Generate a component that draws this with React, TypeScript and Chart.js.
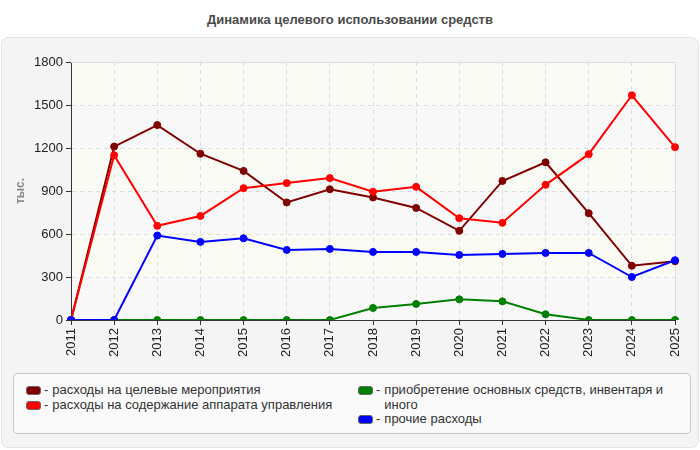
import { useEffect, useRef } from "react";
import { Chart, registerables } from "chart.js";

Chart.register(...registerables);

const YEARS = ["2011", "2012", "2013", "2014", "2015", "2016", "2017", "2018", "2019", "2020", "2021", "2022", "2023", "2024", "2025"];
const TARGET = [0, 1210, 1360, 1160, 1040, 820, 912, 855, 782, 622, 970, 1100, 745, 378, 410];
const ADMIN = [0, 1150, 657, 726, 920, 955, 990, 895, 929, 710, 678, 943, 1157, 1568, 1206];
const ASSETS = [0, 0, 0, 0, 0, 0, 0, 84, 112, 144, 130, 40, 0, 0, 0];
const OTHER = [0, 0, 589, 545, 570, 489, 496, 475, 475, 454, 461, 468, 468, 300, 417];
const LABELS = [
  "расходы на целевые мероприятия",
  "расходы на содержание аппарата управления",
  "приобретение основных средств, инвентаря и иного",
  "прочие расходы",
];
const COLORS = ["#800000", "#ff0000", "#008000", "#0000ff"];
const Y_TICKS = [0, 300, 600, 900, 1200, 1500, 1800];

const FONT = "'Liberation Sans', Arial, sans-serif";

// hatched striped background behind the plot
const plotBackground = {
  id: "plotBackground",
  beforeDraw(chart: any) {
    const { ctx, chartArea: a, scales } = chart;
    const y = scales.y;
    ctx.save();
    for (let i = 0; i < Y_TICKS.length - 1; i++) {
      const top = y.getPixelForValue(Y_TICKS[i + 1]);
      const bottom = y.getPixelForValue(Y_TICKS[i]);
      ctx.fillStyle = i % 2 === 1 ? "#fdfdf8" : "#fbfbfb";
      ctx.fillRect(a.left, top, a.right - a.left, bottom - top);
    }
    ctx.beginPath();
    ctx.rect(a.left, a.top, a.right - a.left, a.bottom - a.top);
    ctx.clip();
    ctx.strokeStyle = "rgba(0,0,0,0.04)";
    ctx.lineWidth = 1;
    const h = a.bottom - a.top;
    for (let x = a.left - h; x < a.right; x += 4) {
      ctx.beginPath();
      ctx.moveTo(x, a.bottom);
      ctx.lineTo(x + h, a.top);
      ctx.stroke();
    }
    ctx.restore();
  },
  beforeDatasetsDraw(chart: any) {
    const { ctx, chartArea: a } = chart;
    ctx.save();
    ctx.strokeStyle = "#dddddd";
    ctx.lineWidth = 1;
    ctx.beginPath();
    ctx.moveTo(a.left, a.top + 0.5);
    ctx.lineTo(a.right + 0.5, a.top + 0.5);
    ctx.lineTo(a.right + 0.5, a.bottom);
    ctx.stroke();
    ctx.restore();
  },
};

function LineChart() {
  const canvasRef = useRef<HTMLCanvasElement>(null);

  useEffect(() => {
    if (!canvasRef.current) return;
    const series = [TARGET, ADMIN, ASSETS, OTHER];
    const order = [3, 2, 1, 0];
    const chart = new Chart(canvasRef.current, {
      type: "line",
      data: {
        labels: YEARS,
        datasets: series.map((data, i) => ({
          label: LABELS[i],
          data,
          borderColor: COLORS[i],
          backgroundColor: COLORS[i],
          borderWidth: 2,
          pointRadius: 3.5,
          pointBorderWidth: 1,
          pointBorderColor: COLORS[i],
          pointBackgroundColor: COLORS[i],
          tension: 0,
          order: order[i],
        })),
      },
      options: {
        responsive: false,
        animation: false,
        layout: { padding: { top: 22, right: 25, left: 10, bottom: 0 } },
        plugins: {
          legend: { display: false },
          tooltip: { enabled: false },
        },
        scales: {
          x: {
            offset: false,
            grid: {
              color: "#dcdcdc",
              drawTicks: true,
              tickLength: 5,
              tickColor: "#333",
            },
            border: { color: "#333", dash: [4, 4] },
            ticks: {
              minRotation: 90,
              maxRotation: 90,
              padding: 3,
              color: "#222",
              font: { family: FONT, size: 13 },
            },
            afterFit: (s: any) => {
              s.height = 50;
            },
          },
          y: {
            min: 0,
            max: 1800,
            afterBuildTicks: (s: any) => {
              s.ticks = Y_TICKS.map((v) => ({ value: v }));
            },
            grid: {
              color: "#dcdcdc",
              drawTicks: true,
              tickLength: 5,
              tickColor: "#333",
            },
            border: { color: "#333", dash: [4, 4] },
            ticks: {
              padding: 3,
              color: "#222",
              font: { family: FONT, size: 13 },
              callback: (v: any) => String(v),
            },
            title: {
              display: true,
              text: "тыс.",
              color: "#8a8a8a",
              font: { family: FONT, size: 12, weight: "bold" },
              padding: { top: 3, bottom: 0 },
            },
            afterFit: (s: any) => {
              s.width = 61;
            },
          },
        },
      },
      plugins: [plotBackground],
    });
    return () => chart.destroy();
  }, []);

  return (
    <canvas
      ref={canvasRef}
      width={700}
      height={330}
      style={{ position: "absolute", left: 0, top: 40, width: 700, height: 330 }}
    />
  );
}

function Swatch({ color }: { color: string }) {
  return (
    <span
      style={{
        display: "inline-block",
        width: 13,
        height: 7,
        background: color,
        border: "1px solid #666",
        borderRadius: 3,
        marginRight: 3,
        flexShrink: 0,
        marginTop: 3,
      }}
    />
  );
}

function LegendItem({ i, width }: { i: number; width: number }) {
  return (
    <div style={{ display: "flex", alignItems: "flex-start", width, lineHeight: "14.5px" }}>
      <Swatch color={COLORS[i]} />
      <span style={{ marginRight: 4 }}>-</span>
      <span>{LABELS[i]}</span>
    </div>
  );
}

export default function App() {
  return (
    <div
      style={{
        position: "absolute",
        left: 0,
        top: 0,
        width: 700,
        height: 450,
        background: "#ffffff",
        fontFamily: FONT,
        overflow: "hidden",
      }}
    >
      <div
        style={{
          position: "absolute",
          left: 0,
          top: 12,
          width: 700,
          textAlign: "center",
          fontSize: 13,
          fontWeight: "bold",
          color: "#4a4a4a",
        }}
      >
        Динамика целевого использовании средств
      </div>
      <div
        style={{
          position: "absolute",
          left: 1,
          top: 37,
          width: 696,
          height: 409,
          background: "#f4f4f4",
          border: "1px solid #e4e4e4",
          borderRadius: 7,
        }}
      />
      <LineChart />
      <div
        style={{
          position: "absolute",
          left: 13,
          top: 373,
          width: 676,
          height: 59,
          background: "#fafafa",
          border: "1px solid #c8c8c8",
          borderRadius: 4,
          fontSize: 13,
          color: "#333",
        }}
      >
        <div style={{ position: "absolute", left: 12, top: 9 }}>
          <LegendItem i={0} width={330} />
          <LegendItem i={1} width={330} />
        </div>
        <div style={{ position: "absolute", left: 344, top: 9 }}>
          <LegendItem i={2} width={326} />
          <LegendItem i={3} width={326} />
        </div>
      </div>
    </div>
  );
}
